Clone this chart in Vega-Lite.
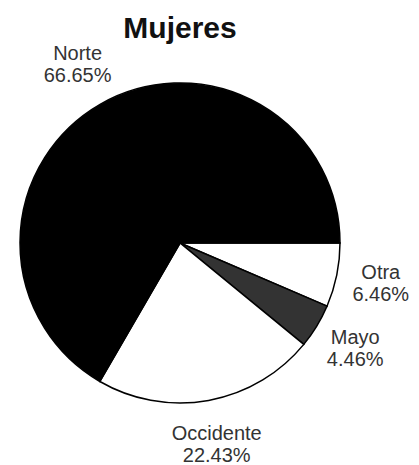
{
  "$schema": "https://vega.github.io/schema/vega-lite/v6.json",
  "width": 360,
  "height": 320,
  "autosize": "none",
  "padding": {"left": 0, "top": 83, "right": 59, "bottom": 62},
  "background": "white",
  "title": {"text": "Mujeres", "font": "Liberation Sans", "fontSize": 30, "fontWeight": "bold", "color": "#111", "anchor": "middle", "frame": "group", "baseline": "alphabetic", "offset": 5, "dy": 29},
  "data": {"values": [
    {"categoria": "Otra", "porcentaje": 6.46, "etiqueta": "Otra\n6.46%", "orden": 1},
    {"categoria": "Mayo", "porcentaje": 4.46, "etiqueta": "Mayo\n4.46%", "orden": 2},
    {"categoria": "Occidente", "porcentaje": 22.43, "etiqueta": "Occidente\n22.43%", "orden": 3},
    {"categoria": "Norte", "porcentaje": 66.65, "etiqueta": "Norte\n66.65%", "orden": 4}
  ]},
  "encoding": {
    "theta": {"field": "porcentaje", "type": "quantitative", "stack": true, "scale": {"range": [1.5708, 7.854]}},
    "order": {"field": "orden", "type": "quantitative"}
  },
  "layer": [
    {
      "mark": {"type": "arc", "radius": 160, "stroke": "#000", "strokeWidth": 1.5},
      "encoding": {
        "fill": {"field": "categoria", "type": "nominal", "legend": null,
          "scale": {"domain": ["Otra", "Mayo", "Occidente", "Norte"], "range": ["#ffffff", "#333333", "#ffffff", "#000000"]}}
      }
    },
    {
      "mark": {"type": "text", "radius": 205, "dy": -11, "font": "Liberation Sans", "fontSize": 20, "color": "#333", "lineBreak": "\n", "lineHeight": 22, "align": "center", "baseline": "middle"},
      "encoding": {"text": {"field": "etiqueta", "type": "nominal"}}
    }
  ],
  "config": {"view": {"stroke": null}}
}
